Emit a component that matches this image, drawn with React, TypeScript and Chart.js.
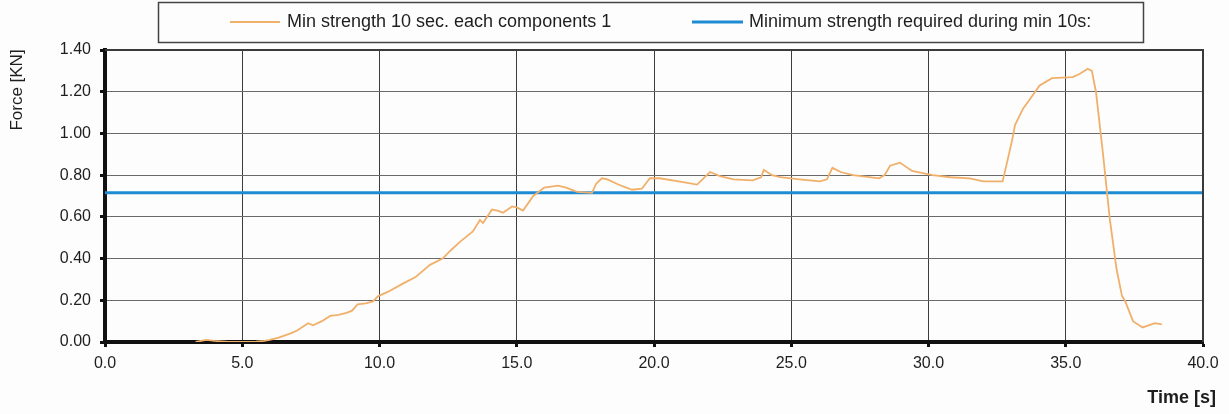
import React, { useEffect, useRef } from "react";
import { Chart, registerables } from "chart.js";

Chart.register(...registerables);

const timeValues = [
  3.3, 3.5, 3.7, 4.0, 4.5, 5.0, 5.5, 5.8, 6.0, 6.3, 6.74, 7.0, 7.4, 7.58, 7.9, 8.2, 8.5, 8.8, 9.0, 9.2,
  9.5, 9.76, 9.95, 10.3, 10.85, 11.3, 11.84, 12.3, 12.6, 12.93, 13.4, 13.66, 13.77, 14.1, 14.3, 14.5,
  14.83, 15.0, 15.23, 15.6, 16.0, 16.5, 16.8, 17.2, 17.74, 17.9, 18.1, 18.3, 18.7, 19.2, 19.56, 19.85,
  20.2, 20.9, 21.57, 22.04, 22.4, 22.9, 23.6, 23.9, 24.0, 24.3, 24.6, 25.3, 26.05, 26.3, 26.5, 26.8,
  27.25, 28.2, 28.4, 28.6, 28.96, 29.4, 30.15, 30.8, 31.5, 32.0, 32.7, 32.86, 33.05, 33.15, 33.45,
  33.7, 34.05, 34.5, 35.25, 35.5, 35.8, 35.95, 36.1, 36.35, 36.6, 36.85, 37.05, 37.15, 37.45, 37.8,
  38.25, 38.5,
];

const forceValues = [
  0, 0.005, 0.01, 0.005, 0, 0, 0.002, 0.005, 0.01, 0.02, 0.04, 0.055, 0.09, 0.08, 0.1, 0.125, 0.13,
  0.14, 0.15, 0.18, 0.185, 0.195, 0.22, 0.24, 0.28, 0.31, 0.37, 0.4, 0.44, 0.48, 0.53, 0.585, 0.57,
  0.635, 0.63, 0.62, 0.65, 0.645, 0.63, 0.7, 0.74, 0.75, 0.74, 0.72, 0.715, 0.76, 0.785, 0.78, 0.755,
  0.73, 0.735, 0.785, 0.785, 0.77, 0.755, 0.815, 0.795, 0.78, 0.775, 0.79, 0.825, 0.8, 0.79, 0.78,
  0.77, 0.78, 0.835, 0.815, 0.8, 0.785, 0.8, 0.845, 0.86, 0.82, 0.8, 0.79, 0.785, 0.77, 0.77, 0.86,
  0.97, 1.04, 1.12, 1.165, 1.23, 1.265, 1.27, 1.285, 1.31, 1.3, 1.2, 0.91, 0.595, 0.35, 0.22, 0.2,
  0.1, 0.07, 0.09, 0.085,
];

const requiredTime = [0, 40];
const requiredForce = [0.715, 0.715];

const seriesLabels = [
  "Min strength 10 sec. each components 1",
  "Minimum strength required during min 10s:",
];
const yTitle = "Force [KN]";
const xTitle = "Time [s]";

const ORANGE = "#F1B06A";
const BLUE = "#1E8CD2";
const FONT = "'Liberation Sans', Arial, sans-serif";

const decorPlugin = {
  id: "decor",
  afterDraw(chart: any) {
    const { ctx, chartArea } = chart;
    const { left, right, top, bottom } = chartArea;
    ctx.save();
    // top and right frame
    ctx.strokeStyle = "#3a3a3a";
    ctx.lineWidth = 2;
    ctx.beginPath();
    ctx.moveTo(left, top);
    ctx.lineTo(right, top);
    ctx.lineTo(right, bottom);
    ctx.stroke();

    // legend box
    ctx.strokeStyle = "#444";
    ctx.lineWidth = 1.5;
    ctx.strokeRect(158.5, 2.5, 985, 40);
    const ly = 22;
    ctx.lineWidth = 2;
    ctx.strokeStyle = ORANGE;
    ctx.beginPath();
    ctx.moveTo(230, ly);
    ctx.lineTo(280, ly);
    ctx.stroke();
    ctx.lineWidth = 3;
    ctx.strokeStyle = BLUE;
    ctx.beginPath();
    ctx.moveTo(692, ly);
    ctx.lineTo(743, ly);
    ctx.stroke();
    ctx.fillStyle = "#1e1e1e";
    ctx.font = `18px ${FONT}`;
    ctx.textBaseline = "middle";
    ctx.textAlign = "left";
    ctx.fillText(seriesLabels[0], 287, ly);
    ctx.fillText(seriesLabels[1], 749, ly);

    // y title
    ctx.save();
    ctx.translate(17, 90);
    ctx.rotate(-Math.PI / 2);
    ctx.textAlign = "center";
    ctx.textBaseline = "middle";
    ctx.font = `17px ${FONT}`;
    ctx.fillText(yTitle, 0, 0);
    ctx.restore();

    // x title
    ctx.font = `bold 18px ${FONT}`;
    ctx.textAlign = "right";
    ctx.textBaseline = "middle";
    ctx.fillText(xTitle, 1216, 398);
    ctx.restore();
  },
};

export default function App() {
  const canvasRef = useRef<HTMLCanvasElement | null>(null);

  useEffect(() => {
    if (!canvasRef.current) return;
    const orangePoints = timeValues.map((t, i) => ({ x: t, y: forceValues[i] }));
    const bluePoints = requiredTime.map((t, i) => ({ x: t, y: requiredForce[i] }));
    const chart = new Chart(canvasRef.current, {
      type: "line",
      data: {
        datasets: [
          {
            label: seriesLabels[0],
            data: orangePoints,
            borderColor: ORANGE,
            borderWidth: 1.8,
            pointRadius: 0,
            tension: 0,
            fill: false,
          },
          {
            label: seriesLabels[1],
            data: bluePoints,
            borderColor: BLUE,
            borderWidth: 3,
            pointRadius: 0,
            fill: false,
          },
        ],
      },
      plugins: [decorPlugin],
      options: {
        animation: false,
        responsive: false,
        maintainAspectRatio: false,
        layout: { padding: { top: 50, right: 26, bottom: 0, left: 0 } },
        plugins: {
          legend: { display: false },
          tooltip: { enabled: false },
          title: { display: false },
        },
        scales: {
          x: {
            type: "linear",
            min: 0,
            max: 40,
            afterFit: (s: any) => {
              s.height = 72;
            },
            ticks: {
              stepSize: 5,
              padding: 7,
              color: "#1e1e1e",
              font: { family: FONT, size: 16 },
              callback: (v: any) => Number(v).toFixed(1),
            },
            grid: {
              color: "#3c3c3c",
              lineWidth: 1,
              tickLength: 5,
              tickWidth: 3,
              tickColor: "#111",
            },
            border: { color: "#111", width: 4 },
          },
          y: {
            type: "linear",
            min: 0,
            max: 1.4,
            afterFit: (s: any) => {
              s.width = 105;
            },
            ticks: {
              stepSize: 0.2,
              padding: 9,
              color: "#1e1e1e",
              font: { family: FONT, size: 16 },
              callback: (v: any) => Number(v).toFixed(2),
            },
            grid: {
              color: "#6a6a6a",
              lineWidth: 1,
              tickLength: 5,
              tickWidth: 3,
              tickColor: "#111",
            },
            border: { color: "#111", width: 4 },
          },
        },
      },
    });
    return () => chart.destroy();
  }, []);

  return (
    <div
      style={{
        position: "fixed",
        left: 0,
        top: 0,
        width: 1229,
        height: 414,
        background: "#fdfdfd",
      }}
    >
      <canvas ref={canvasRef} width={1229} height={414} style={{ display: "block" }} />
    </div>
  );
}
